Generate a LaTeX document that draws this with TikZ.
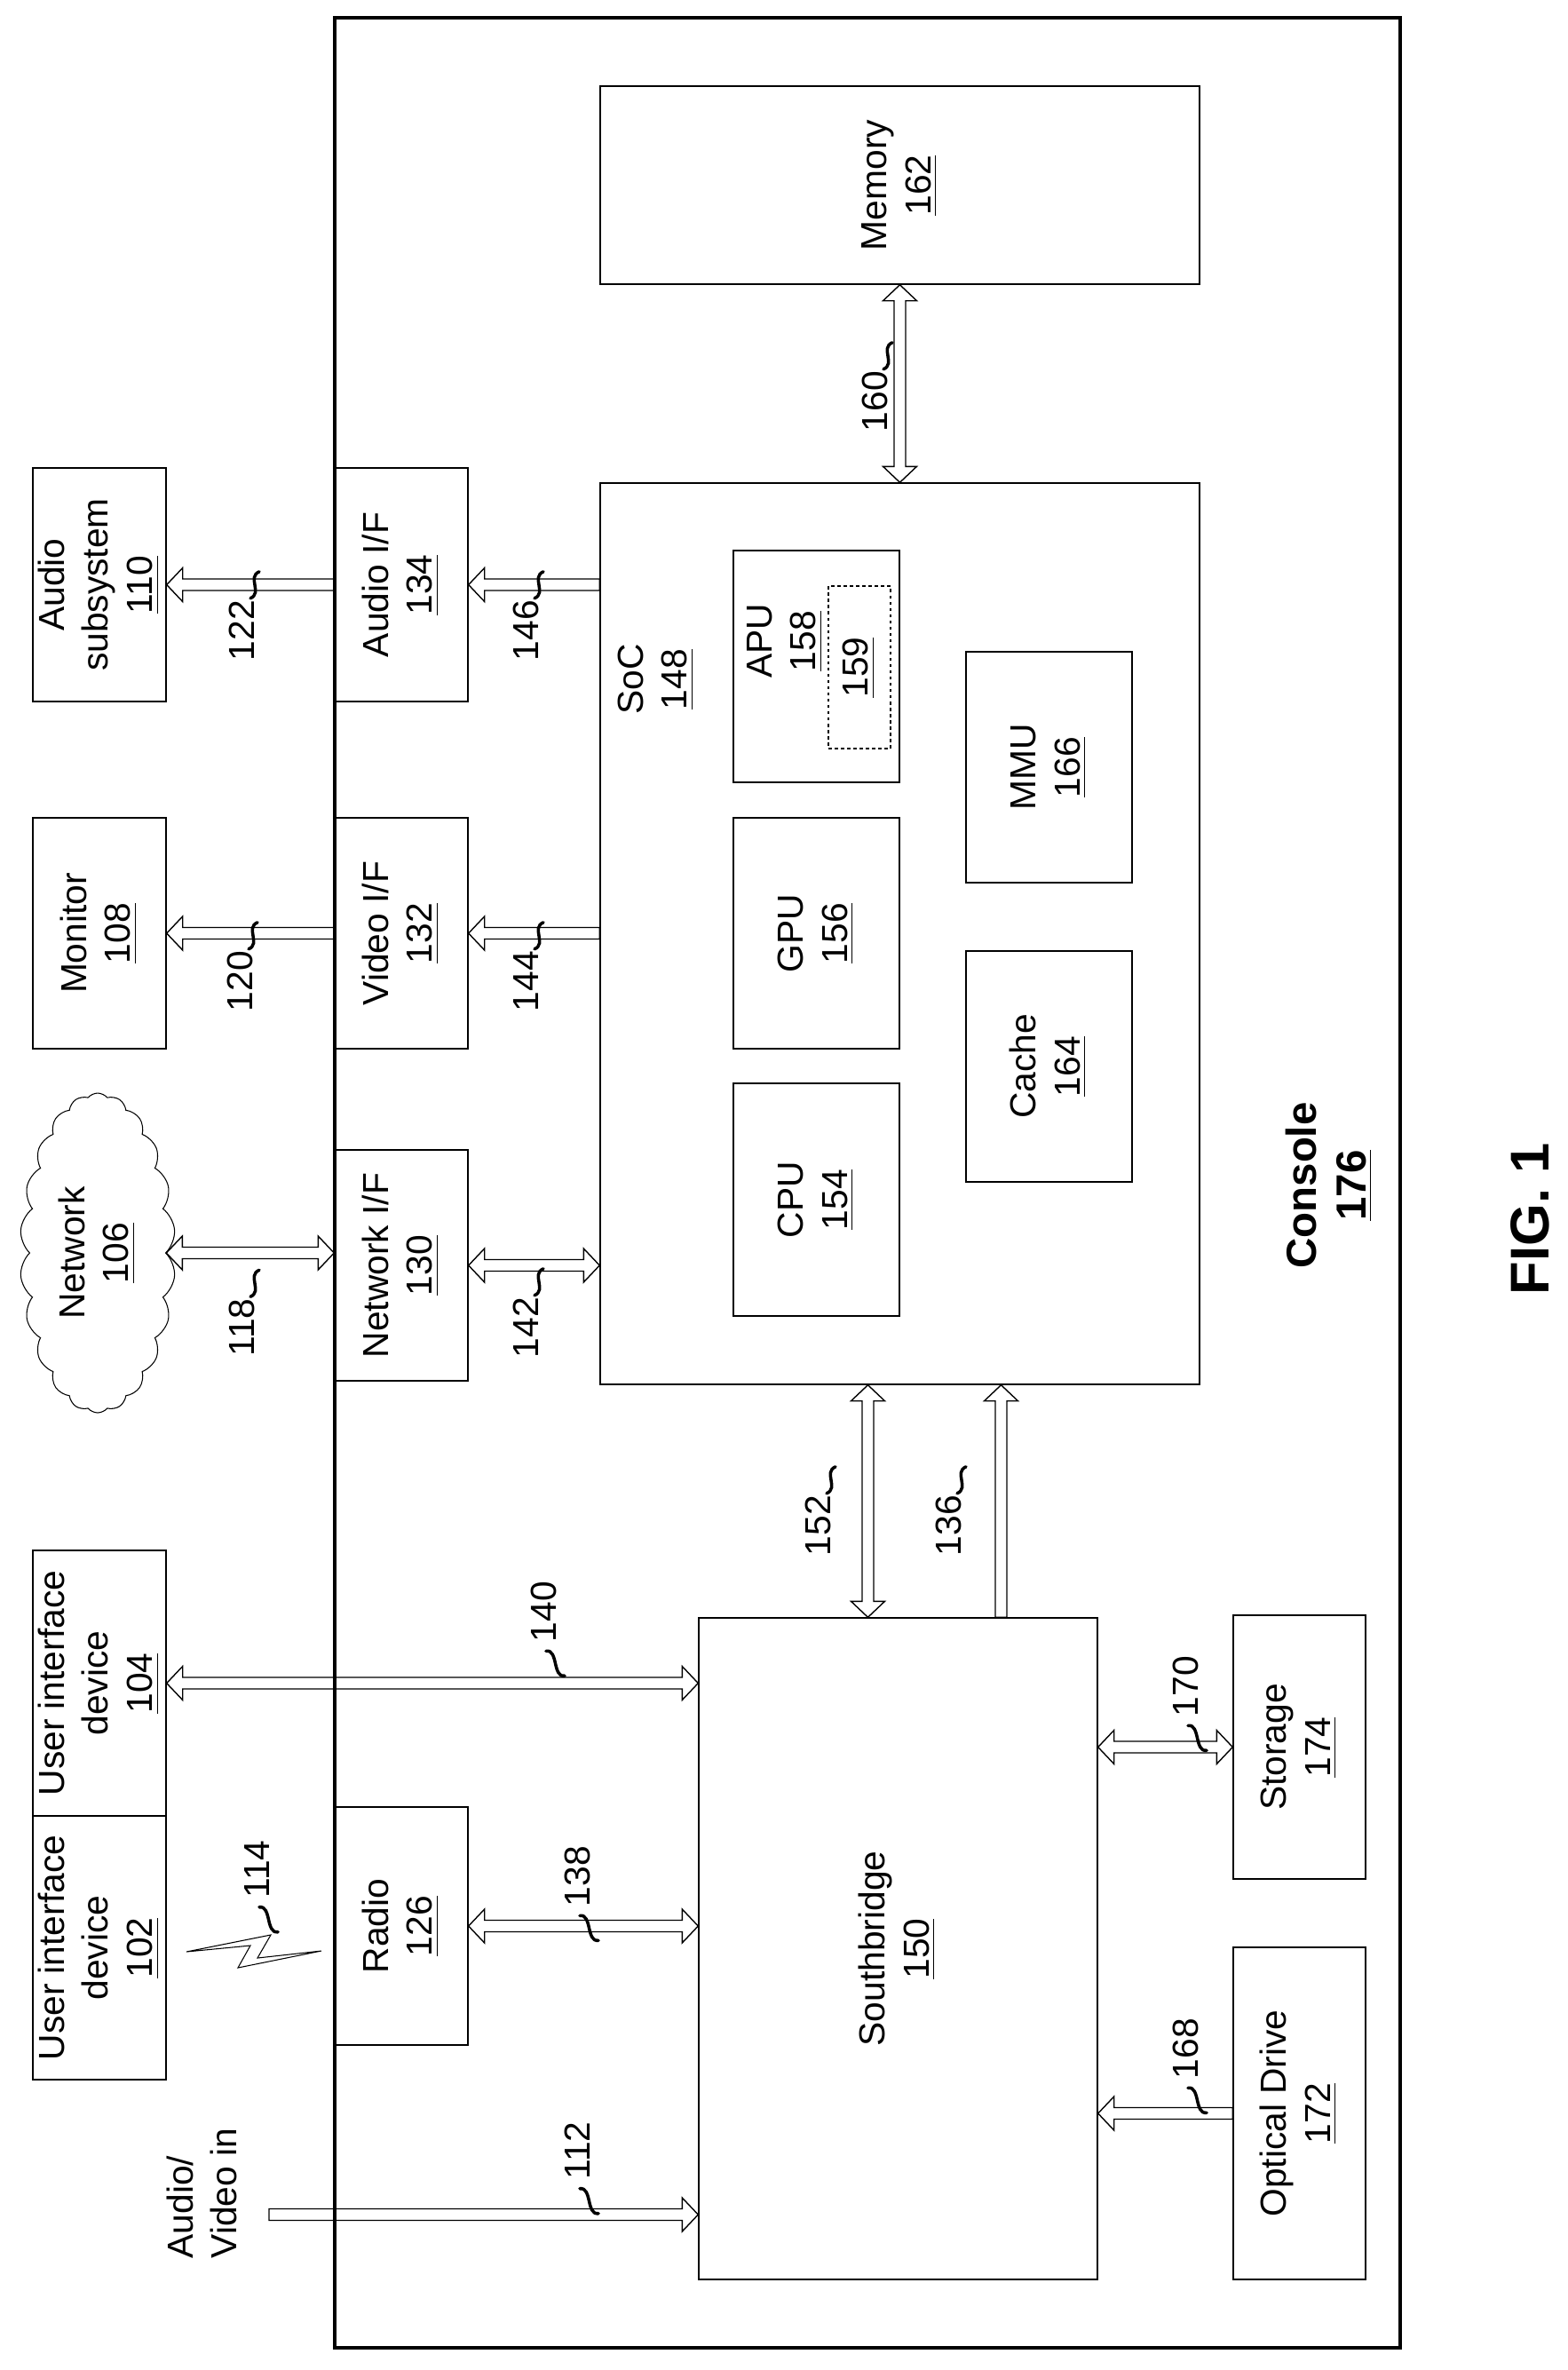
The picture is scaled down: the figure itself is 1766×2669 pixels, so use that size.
\documentclass[tikz,border=0pt]{standalone}
\usepackage{fontspec}
\setmainfont{Liberation Sans}
\usetikzlibrary{calc,shapes.symbols}

% hollow block arrows between two points
\newcommand{\dblarrow}[2]{%
\draw[fatline] (#1)
 -- ($($(#1)!1.8mm!(#2)$)!1.9mm!90:(#2)$)
 -- ($($(#1)!1.8mm!(#2)$)!0.65mm!90:(#2)$)
 -- ($($(#2)!1.8mm!(#1)$)!0.65mm!-90:(#1)$)
 -- ($($(#2)!1.8mm!(#1)$)!1.9mm!-90:(#1)$)
 -- (#2)
 -- ($($(#2)!1.8mm!(#1)$)!1.9mm!90:(#1)$)
 -- ($($(#2)!1.8mm!(#1)$)!0.65mm!90:(#1)$)
 -- ($($(#1)!1.8mm!(#2)$)!0.65mm!-90:(#2)$)
 -- ($($(#1)!1.8mm!(#2)$)!1.9mm!-90:(#2)$) -- cycle;}
\newcommand{\onearrow}[2]{%
\draw[fatline] ($(#1)!0.65mm!90:(#2)$)
 -- ($($(#2)!1.8mm!(#1)$)!0.65mm!-90:(#1)$)
 -- ($($(#2)!1.8mm!(#1)$)!1.9mm!-90:(#1)$)
 -- (#2)
 -- ($($(#2)!1.8mm!(#1)$)!1.9mm!90:(#1)$)
 -- ($($(#2)!1.8mm!(#1)$)!0.65mm!90:(#1)$)
 -- ($(#1)!0.65mm!-90:(#2)$) -- cycle;}
\newcommand{\rt}[1]{\rotatebox{90}{\begin{tabular}{@{}c@{}}#1\end{tabular}}}

\begin{document}
\begin{tikzpicture}[x=0.1mm, y=-0.1mm,
  txt/.style = {font=\fontsize{11.6}{14.2}\selectfont},
  box/.style = {draw, line width=0.4pt, inner sep=0pt, txt},
  fatline/.style = {line width=0.4pt, line join=miter},
  num/.style = {txt, rotate=90, inner sep=1pt},
  sq/.style = {line width=1pt, line cap=round}]

\useasboundingbox (0,0) rectangle (1766,2669);

% Console
\draw[line width=0.9pt] (377,20) rectangle (1577,2644);
\node[txt, font=\fontsize{13.5}{16}\selectfont\bfseries] (console) at (1499,1335) {\rt{Console\\\underline{176}}};
\node[font=\fontsize{17.5}{20}\selectfont\bfseries] (fig) at (1723,1373) {\rotatebox{90}{FIG. 1}};

% Memory and SoC
\node[box, minimum width=67.5mm, minimum height=22.3mm] (mem) at (1013.5,208.5) {\rt{Memory\\\underline{162}}};
\node[box, minimum width=67.5mm, minimum height=101.5mm] (soc) at (1013.5,1051.5) {};
\node[txt] (soclbl) at (739,765) {\rt{SoC\\\underline{148}}};
\node[box, minimum width=18.7mm, minimum height=26.1mm] (apu) at (919.5,750.5) {};
\node[txt] (apulbl) at (884,722) {\rt{APU\\\underline{158}}};
\node[box, dashed, dash pattern=on 1pt off 1pt, line width=0.3pt, minimum width=7mm, minimum height=18.3mm] (b159) at (968,751.5) {\rt{\underline{159}}};
\node[box, minimum width=18.7mm, minimum height=26mm] (gpu) at (919.5,1051) {\rt{GPU\\\underline{156}}};
\node[box, minimum width=18.7mm, minimum height=26.2mm] (cpu) at (919.5,1351) {\rt{CPU\\\underline{154}}};
\node[box, minimum width=18.7mm, minimum height=26mm] (mmu) at (1181.5,864) {\rt{MMU\\\underline{166}}};
\node[box, minimum width=18.7mm, minimum height=26mm] (cache) at (1181.5,1201) {\rt{Cache\\\underline{164}}};

% Interfaces
\node[box, minimum width=15mm, minimum height=26.3mm] (aif) at (452,658.5) {\rt{Audio I/F\\\underline{134}}};
\node[box, minimum width=15mm, minimum height=26mm] (vif) at (452,1051) {\rt{Video I/F\\\underline{132}}};
\node[box, minimum width=15mm, minimum height=26mm] (nif) at (452,1425) {\rt{Network I/F\\\underline{130}}};
\node[box, minimum width=15mm, minimum height=26.8mm] (radio) at (452,2169) {\rt{Radio\\\underline{126}}};

% Outside devices
\node[box, minimum width=15mm, minimum height=26.3mm] (audsub) at (112,658.5) {\rt{Audio\\subsystem\\\underline{110}}};
\node[box, minimum width=15mm, minimum height=26mm] (mon) at (112,1051) {\rt{Monitor\\\underline{108}}};
\node[draw, line width=0.3pt, cloud, cloud puffs=22, cloud puff arc=100, aspect=0.45, minimum width=17.5mm, minimum height=36mm, inner sep=0pt, txt] (net) at (110,1411) {\rt{Network\\\underline{106}}};
\node[box, minimum width=15mm, minimum height=29.9mm] (ui104) at (112,1895.5) {\rt{User interface\\device\\\underline{104}}};
\node[box, minimum width=15mm, minimum height=29.7mm] (ui102) at (112,2193.5) {\rt{User interface\\device\\\underline{102}}};
\node[txt] (avlbl) at (232,2470) {\rotatebox{90}{\begin{tabular}{@{}l@{}}Audio/\\Video in\end{tabular}}};
\coordinate (avin) at (303,2494);

% Southbridge and drives
\node[box, minimum width=44.9mm, minimum height=74.5mm] (sb) at (1011.5,2194.5) {\rt{Southbridge\\\underline{150}}};
\node[box, minimum width=14.9mm, minimum height=29.7mm] (stor) at (1463.5,1967.5) {\rt{Storage\\\underline{174}}};
\node[box, minimum width=14.9mm, minimum height=37.4mm] (opt) at (1463.5,2380) {\rt{Optical Drive\\\underline{172}}};

% Block arrows
\onearrow{aif.west}{aif.west -| audsub.east}
\onearrow{aif.east -| soc.west}{aif.east}
\onearrow{vif.west}{vif.west -| mon.east}
\onearrow{vif.east -| soc.west}{vif.east}
\dblarrow{net.east}{net.east -| nif.west}
\dblarrow{nif.east}{nif.east -| soc.west}
\dblarrow{mem.south}{mem.south |- soc.north}
\dblarrow{[xshift=-3.6mm]soc.south}{[xshift=-3.6mm]soc.south |- sb.north}
\onearrow{[xshift=11.4mm]soc.south |- sb.north}{[xshift=11.4mm]soc.south}
\dblarrow{ui104.east}{ui104.east -| sb.west}
\dblarrow{radio.east}{radio.east -| sb.west}
\onearrow{avin}{avin -| sb.west}
\dblarrow{stor.west}{stor.west -| sb.east}
\onearrow{opt.west}{opt.west -| sb.east}

% Wireless link
\draw[line width=0.3pt, line join=miter] (210,2198) -- (305,2179) -- (290,2205) -- (362,2197) -- (268,2216) -- (282,2191) -- cycle;

% Reference numbers, tilde kind
\foreach \n/\x/\y in {160/985/452, 122/272/710, 146/592/710, 120/270/1105, 144/592/1105, 118/272/1495, 142/592/1495, 152/921/1718, 136/1068/1718}{
  \node[num] (l\n) at (\x,\y) {\n};
  \draw[sq] ([shift={(10,2)}]l\n.east) .. controls +(14,-6) and +(-14,6) .. +(10,-30);
}
% Reference numbers, hook kind
\foreach \n/\x/\y in {140/612/1815, 138/650/2113, 112/650/2422, 114/289/2105, 170/1335/1899, 168/1335/2307}{
  \node[num] (l\n) at (\x,\y) {\n};
  \draw[sq] ([shift={(3,6)}]l\n.west) .. controls +(14,-2) and +(-14,2) .. +(21,28);
}

\end{tikzpicture}
\end{document}
